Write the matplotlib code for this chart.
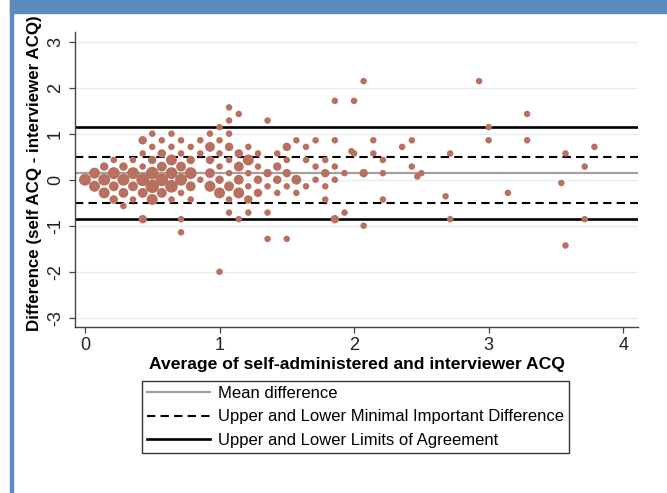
import numpy as np
import matplotlib.pyplot as plt
from matplotlib.patches import Rectangle
from matplotlib.lines import Line2D

plt.rcParams['font.family'] = ['Liberation Sans', 'DejaVu Sans']
plt.rcParams['axes.unicode_minus'] = False

# Bland-Altman datos: promedio (x), diferencia (y), n pacientes en ese punto
avg = [0.0,
       0.071, 0.071,
       0.143, 0.143, 0.143,
       0.214, 0.214, 0.214, 0.214,
       0.286, 0.286, 0.286, 0.286,
       0.357, 0.357, 0.357, 0.357,
       0.429, 0.429, 0.429, 0.429, 0.429, 0.429,
       0.5, 0.5, 0.5, 0.5, 0.5, 0.5,
       0.571, 0.571, 0.571, 0.571, 0.571,
       0.643, 0.643, 0.643, 0.643, 0.643, 0.643,
       0.714, 0.714, 0.714, 0.714, 0.714, 0.714, 0.714,
       0.786, 0.786, 0.786, 0.786, 0.786,
       0.857, 0.857, 0.857,
       0.929, 0.929, 0.929, 0.929, 0.929,
       1.0, 1.0, 1.0, 1.0, 1.0, 1.0, 1.0,
       1.071, 1.071, 1.071, 1.071, 1.071, 1.071, 1.071, 1.071, 1.071,
       1.143, 1.143, 1.143, 1.143, 1.143, 1.143,
       1.214, 1.214, 1.214, 1.214, 1.214, 1.214,
       1.286, 1.286, 1.286, 1.286,
       1.357, 1.357, 1.357, 1.357, 1.357,
       1.429, 1.429, 1.429, 1.429,
       1.5, 1.5, 1.5, 1.5, 1.5,
       1.571, 1.571, 1.571,
       1.643, 1.643, 1.643,
       1.714, 1.714, 1.714,
       1.786, 1.786, 1.786, 1.786,
       1.857, 1.857, 1.857, 1.857, 1.857,
       1.929, 1.929,
       1.98, 2.0, 2.0,
       2.071, 2.071, 2.071,
       2.143, 2.143,
       2.214, 2.214, 2.214,
       2.357,
       2.429, 2.429,
       2.47, 2.5,
       2.68,
       2.714, 2.714,
       2.929,
       3.0, 3.0,
       3.143,
       3.286, 3.286,
       3.54,
       3.571, 3.571,
       3.714, 3.714,
       3.786]
diff = [0.0,
        0.143, -0.143,
        0.286, 0.0, -0.286,
        0.429, 0.143, -0.143, -0.429,
        0.286, 0.0, -0.286, -0.571,
        0.429, 0.143, -0.143, -0.429,
        0.857, 0.571, 0.286, 0.0, -0.286, -0.857,
        1.0, 0.714, 0.429, 0.143, -0.143, -0.429,
        0.857, 0.571, 0.286, 0.0, -0.286,
        1.0, 0.714, 0.429, 0.143, -0.143, -0.429,
        0.857, 0.571, 0.286, 0.0, -0.286, -0.857, -1.143,
        0.714, 0.429, 0.143, -0.143, -0.429,
        0.857, 0.571, 0.0,
        1.0, 0.714, 0.429, 0.143, -0.143,
        1.143, 0.857, 0.571, 0.286, 0.0, -0.286, -2.0,
        1.571, 1.286, 1.0, 0.714, 0.429, 0.143, -0.143, -0.429, -0.714,
        1.429, 0.571, 0.286, 0.0, -0.286, -0.857,
        0.714, 0.429, 0.143, -0.143, -0.429, -0.714,
        0.571, 0.286, 0.0, -0.286,
        1.286, 0.143, -0.143, -0.714, -1.286,
        0.571, 0.286, 0.0, -0.286,
        0.714, 0.429, 0.143, -0.143, -1.286,
        0.857, 0.0, -0.286,
        0.714, 0.429, -0.143,
        0.857, 0.286, 0.0,
        0.429, 0.143, -0.143, -0.429,
        1.714, 0.857, 0.286, 0.0, -0.857,
        0.143, -0.714,
        0.62, 0.571, 1.714,
        2.143, 0.143, -1.0,
        0.857, 0.571,
        0.429, 0.143, -0.429,
        0.714,
        0.857, 0.286,
        0.07, 0.143,
        -0.36,
        0.571, -0.857,
        2.143,
        1.143, 0.857,
        -0.286,
        1.429, 0.857,
        -0.07,
        0.571, -1.429,
        0.286, -0.857,
        0.714]
count = [5,
         4, 4,
         2, 5, 4,
         1, 5, 3, 2,
         2, 5, 3, 1,
         1, 5, 3, 1,
         2, 1, 1, 6, 3, 2,
         1, 1, 2, 6, 7, 4,
         1, 2, 3, 6, 3,
         1, 1, 4, 5, 6, 1,
         1, 1, 3, 5, 1, 1, 1,
         1, 2, 5, 3, 1,
         1, 1, 1,
         1, 3, 2, 3, 4,
         1, 1, 1, 1, 2, 4, 1,
         1, 1, 1, 2, 1, 1, 3, 1, 1,
         1, 2, 3, 3, 4, 1,
         1, 4, 1, 1, 2, 1,
         1, 1, 2, 2,
         1, 2, 1, 1, 1,
         1, 2, 2, 1,
         2, 1, 2, 1, 1,
         1, 3, 1,
         1, 1, 1,
         1, 1, 1,
         1, 2, 1, 1,
         1, 1, 1, 1, 2,
         1, 1,
         1, 1, 1,
         1, 2, 1,
         1, 1,
         1, 1, 1,
         1,
         1, 1,
         1, 1,
         1,
         1, 1,
         1,
         1, 1,
         1,
         1, 1,
         1,
         1, 1,
         1, 1,
         1]

mean_diff = 0.14
mid_upper = 0.5
mid_lower = -0.5
loa_upper = 1.14
loa_lower = -0.86

legend_labels = ['Mean difference',
                 'Upper and Lower Minimal Important Difference',
                 'Upper and Lower Limits of Agreement']

dot_color = '#b8705f'
mean_color = '#a89f9f'
frame_blue = '#5b8bbd'

fig = plt.figure(figsize=(6.67, 4.93), dpi=100)
fig.patch.set_facecolor('white')

# marco azul (arriba e izquierda)
fig.patches.append(Rectangle((10 / 667, 1 - 13 / 493), 1, 13 / 493,
                             transform=fig.transFigure, color=frame_blue, zorder=0))
fig.patches.append(Rectangle((10 / 667, 0), 3 / 667, 1,
                             transform=fig.transFigure, color=frame_blue, zorder=0))

ax = fig.add_axes([75 / 667, 166 / 493, 563 / 667, 295 / 493])

# tamaño del punto segun numero de pacientes
sizes = 22 * np.array(count) ** 0.75
ax.scatter(avg, diff, s=sizes, color=dot_color, edgecolors='none', zorder=3)

ax.axhline(mean_diff, color=mean_color, lw=1.6, zorder=2)
ax.axhline(mid_upper, color='black', lw=1.5, ls=(0, (4, 2.5)), zorder=2)
ax.axhline(mid_lower, color='black', lw=1.5, ls=(0, (4, 2.5)), zorder=2)
ax.axhline(loa_upper, color='black', lw=1.9, zorder=2)
ax.axhline(loa_lower, color='black', lw=1.9, zorder=2)

ax.set_xlim(-0.074, 4.11)
ax.set_ylim(-3.2, 3.21)
ax.set_xticks([0, 1, 2, 3, 4])
ax.set_yticks([-3, -2, -1, 0, 1, 2, 3])
ax.grid(axis='y', color='#e6edf2', lw=1.0, zorder=0)
ax.set_axisbelow(True)

for side in ['top', 'right']:
    ax.spines[side].set_visible(False)
for side in ['left', 'bottom']:
    ax.spines[side].set_linewidth(1.0)
    ax.spines[side].set_color('#444444')

ax.tick_params(axis='both', direction='out', length=4, width=0.9,
               colors='#444444', labelcolor='#222222', labelsize=13)
ax.tick_params(axis='y', pad=4)
ax.tick_params(axis='x', pad=3)
for lab in ax.get_yticklabels():
    lab.set_rotation(90)
    lab.set_va('center')

ax.set_xlabel('Average of self-administered and interviewer ACQ',
              fontsize=12.6, fontweight='bold', labelpad=2)
ax.set_ylabel('Difference (self ACQ - interviewer ACQ)',
              fontsize=12.2, fontweight='bold')
ax.yaxis.set_label_coords(-0.058, 0.52)

handles = [Line2D([], [], color=mean_color, lw=1.6),
           Line2D([], [], color='black', lw=1.5, ls=(0, (4, 2.5))),
           Line2D([], [], color='black', lw=1.9)]
leg = fig.legend(handles, legend_labels, loc='upper center',
                 bbox_to_anchor=(355.5 / 667, 1 - 381 / 493),
                 frameon=True, fancybox=False, fontsize=12,
                 handlelength=3.8, handletextpad=0.45, labelspacing=0.5,
                 borderpad=0.3, borderaxespad=0)
leg.get_frame().set_edgecolor('black')
leg.get_frame().set_linewidth(1.0)

fig.savefig('out.png', dpi=100)
